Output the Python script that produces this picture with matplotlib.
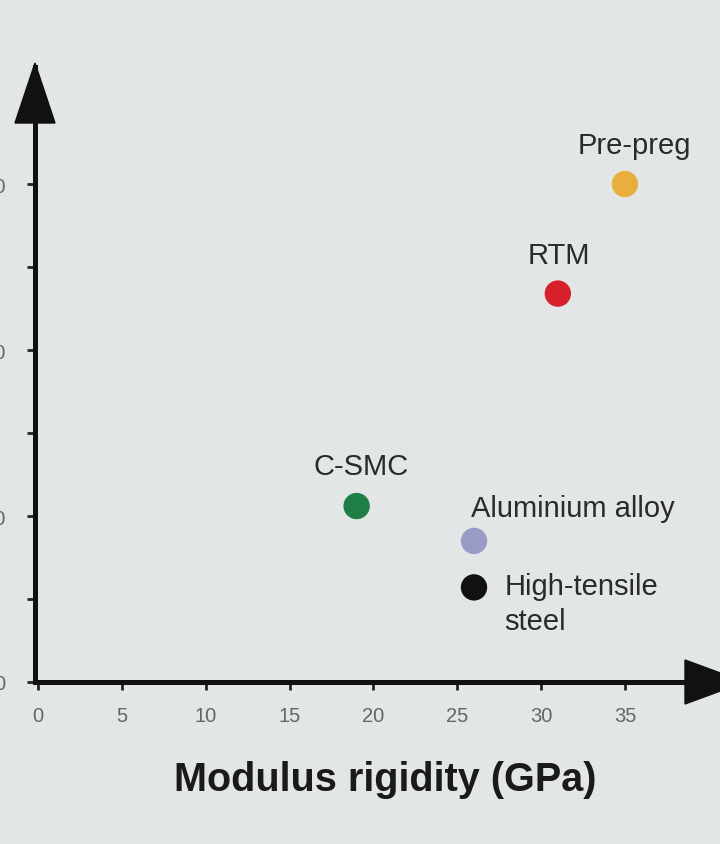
import matplotlib.pyplot as plt
from matplotlib.patches import Polygon

# materials: modulus rigidity (GPa) vs. (unlabelled) property
materials = ["Pre-preg", "RTM", "C-SMC", "Aluminium alloy", "High-tensile\nsteel"]
modulus = [35, 31, 19, 26, 26]
values = [300, 234, 106, 85, 57]
colors = ["#e9ae3e", "#d8202c", "#1f7d46", "#9a9ac6", "#111111"]
# label offsets in points, alignment
offsets = [(6.5, 28), (0.7, 28), (3.6, 29), (-2, 24), (22, 11)]
aligns = [("center", "center"), ("center", "center"), ("center", "center"),
          ("left", "center"), ("left", "top")]

xticks = [0, 5, 10, 15, 20, 25, 30, 35]
yticks = [0, 100, 200, 300]
yminor = [50, 150, 250]

bg = "#e2e6e6"
W, H = 720, 845
fig = plt.figure(figsize=(7.2, 8.45), dpi=100, facecolor=bg)
plt.rcParams['font.family'] = ['Liberation Sans', 'DejaVu Sans']

ax = fig.add_axes([35/W, 1-683/H, 685/W, (683-68)/H])
ax.set_facecolor(bg)
ax.set_xlim(-0.18, 40.67)
ax.set_ylim(0, 370.5)

for s in ["top", "right"]:
    ax.spines[s].set_visible(False)
for s in ["left", "bottom"]:
    ax.spines[s].set_linewidth(3.6)
    ax.spines[s].set_color("#111111")
    ax.spines[s].set_capstyle("projecting")

ax.set_xticks(xticks)
ax.set_yticks(yticks)
ax.set_yticks(yminor, minor=True)
ax.tick_params(axis="both", which="both", length=6, width=2, color="#222222",
               labelsize=14.5, labelcolor="#666666")
ax.tick_params(axis="x", pad=11)
ax.tick_params(axis="y", pad=15)

ax.scatter(modulus, values, s=360, c=colors, zorder=3, linewidths=0)
for m, x, y, off, (ha, va) in zip(materials, modulus, values, offsets, aligns):
    ax.annotate(m, (x, y), xytext=off, textcoords="offset points",
                ha=ha, va=va, fontsize=21, color="#2a2a2a", linespacing=1.3)

ax.set_xlabel("Modulus rigidity (GPa)", fontsize=28.5, fontweight="bold",
              color="#1a1a1a", va="center")
ax.xaxis.set_label_coords(0.511, -0.158)

def px(pts):
    return [(x/W, 1-y/H) for x, y in pts]

fig.add_artist(Polygon(px([(15, 124), (55, 124), (35, 64)]), closed=True,
                       transform=fig.transFigure, color="#111111"))
fig.add_artist(Polygon(px([(685, 661), (685, 705), (745, 683)]), closed=True,
                       transform=fig.transFigure, color="#111111"))

fig.savefig("out.png", dpi=100, facecolor=bg)
